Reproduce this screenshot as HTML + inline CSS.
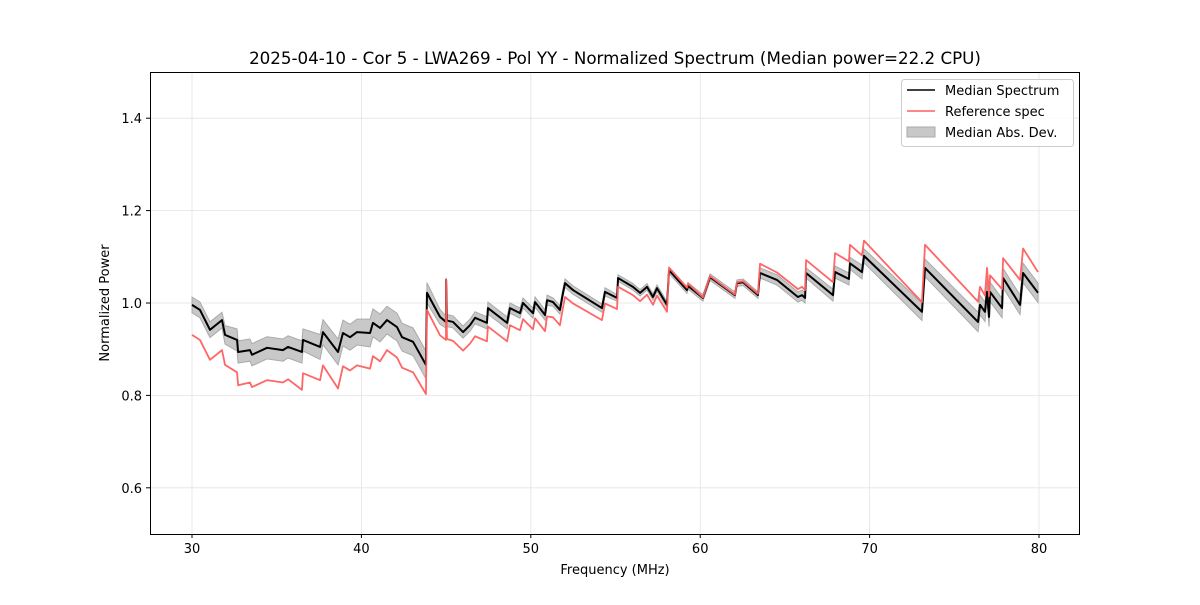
<!DOCTYPE html>
<html><head><meta charset="utf-8"><style>
body{margin:0;background:#fff;}
svg text{font-family:"DejaVu Sans","Liberation Sans",sans-serif;fill:#000;}
</style></head><body>
<svg id="chart" width="1200" height="600" xmlns="http://www.w3.org/2000/svg">
<rect width="1200" height="600" fill="#fff"/>
<g id="grid"></g>
<g id="band"></g>
<g id="lines"></g>
<rect x="150.5" y="72.5" width="929" height="462" fill="none" stroke="#000" stroke-width="1"/>
<g id="ticks"></g>
<text x="615" y="64" font-size="16.7" text-anchor="middle">2025-04-10 - Cor 5 - LWA269 - Pol YY - Normalized Spectrum (Median power=22.2 CPU)</text>
<text x="615" y="574" font-size="13" text-anchor="middle">Frequency (MHz)</text>
<text x="109" y="303" font-size="13" text-anchor="middle" transform="rotate(-90 109 303)">Normalized Power</text>
<g>
<rect x="901.5" y="79.5" width="172" height="67" rx="3" fill="#fff" fill-opacity="0.8" stroke="#ccc"/>
<line x1="907" y1="90" x2="935" y2="90" stroke="#000" stroke-width="1.5"/>
<text x="945" y="95" font-size="13">Median Spectrum</text>
<line x1="907" y1="111" x2="935" y2="111" stroke="#ff5e5e" stroke-width="1.5"/>
<text x="945" y="116" font-size="13">Reference spec</text>
<rect x="907" y="127" width="28" height="10" fill="#c8c8c8" stroke="#aaa"/>
<text x="945" y="137" font-size="13">Median Abs. Dev.</text>
</g>
</svg>
<script>
const xTicks=[30,40,50,60,70,80];
const yTicks=[0.6,0.8,1.0,1.2,1.4];
const yTickLabels=["0.6","0.8","1.0","1.2","1.4"];
const freqs=[30.00,30.47,31.06,31.77,31.95,32.66,32.72,33.42,33.54,34.43,35.37,35.67,36.49,36.55,37.56,37.73,38.62,38.91,39.33,39.74,40.51,40.68,41.10,41.51,42.10,42.40,43.05,43.81,43.87,44.64,44.99,45.00,45.05,45.41,46.00,46.41,46.71,47.41,47.47,48.60,48.77,49.36,49.54,50.13,50.25,50.84,50.96,51.31,51.72,51.90,52.02,52.49,54.20,54.38,55.09,55.15,56.03,56.45,56.86,57.21,57.45,58.04,58.16,59.22,59.28,60.16,60.58,62.05,62.17,62.53,63.41,63.53,64.53,65.77,66.01,66.19,66.25,67.84,67.96,68.78,68.84,69.55,69.67,73.09,73.27,76.40,76.52,76.81,76.93,77.05,77.11,77.82,77.88,78.88,79.06,79.94];
const medianVals=[0.996,0.985,0.942,0.963,0.931,0.920,0.894,0.898,0.888,0.903,0.898,0.905,0.894,0.920,0.905,0.937,0.894,0.935,0.926,0.937,0.935,0.957,0.946,0.963,0.948,0.926,0.916,0.866,1.022,0.970,0.959,1.050,0.962,0.959,0.937,0.952,0.968,0.957,0.989,0.957,0.989,0.978,1.000,0.978,1.002,0.974,1.006,1.002,0.985,1.022,1.043,1.028,0.989,1.024,1.011,1.054,1.035,1.022,1.035,1.013,1.032,0.996,1.071,1.028,1.037,1.011,1.056,1.017,1.043,1.045,1.017,1.065,1.050,1.013,1.017,1.011,1.065,1.017,1.067,1.052,1.086,1.067,1.102,0.981,1.076,0.959,0.996,0.981,1.024,0.970,1.024,0.989,1.054,0.996,1.065,1.022];
const refVals=[0.931,0.920,0.877,0.898,0.866,0.850,0.822,0.828,0.818,0.833,0.828,0.835,0.812,0.848,0.833,0.865,0.815,0.863,0.854,0.865,0.858,0.885,0.874,0.898,0.882,0.860,0.850,0.803,0.985,0.930,0.920,1.050,0.922,0.918,0.897,0.912,0.928,0.917,0.949,0.917,0.952,0.941,0.965,0.943,0.967,0.939,0.971,0.969,0.952,0.990,1.013,0.999,0.963,0.999,0.987,1.035,1.017,1.004,1.018,0.996,1.016,0.981,1.076,1.033,1.042,1.012,1.058,1.018,1.045,1.047,1.020,1.085,1.066,1.030,1.035,1.028,1.093,1.045,1.108,1.090,1.126,1.103,1.135,1.002,1.126,1.003,1.035,1.016,1.076,1.015,1.060,1.030,1.097,1.050,1.118,1.067];
const madVals=[0.017,0.017,0.017,0.017,0.02,0.024,0.024,0.024,0.024,0.024,0.024,0.024,0.024,0.024,0.027,0.027,0.028,0.028,0.028,0.028,0.03,0.03,0.03,0.03,0.03,0.03,0.03,0.03,0.022,0.016,0.013,0.005,0.013,0.013,0.013,0.013,0.013,0.013,0.013,0.013,0.011,0.011,0.011,0.011,0.011,0.011,0.011,0.009,0.009,0.009,0.009,0.009,0.009,0.009,0.007,0.007,0.007,0.007,0.007,0.007,0.007,0.007,0.007,0.007,0.007,0.007,0.007,0.007,0.007,0.007,0.007,0.011,0.011,0.011,0.011,0.011,0.011,0.013,0.013,0.013,0.013,0.015,0.015,0.019,0.019,0.021,0.021,0.021,0.021,0.021,0.021,0.021,0.021,0.021,0.021,0.021];
const NS="http://www.w3.org/2000/svg";
const X0=150,X1=1080,Y0=534,Y1=72,xmin=27.52,xmax=82.42,ymin=0.5,ymax=1.5;
function sx(f){return X0+(f-xmin)/(xmax-xmin)*(X1-X0);}
function sy(v){return Y0-(v-ymin)/(ymax-ymin)*(Y0-Y1);}
function mk(tag,attrs,parent){const e=document.createElementNS(NS,tag);for(const k in attrs)e.setAttribute(k,attrs[k]);parent.appendChild(e);return e;}
const grid=document.getElementById('grid'),ticks=document.getElementById('ticks');
xTicks.forEach(t=>{const x=sx(t);
 const g=mk('line',{x1:x,x2:x,y1:Y1,y2:Y0,stroke:'#e3e3e3','stroke-width':0.8},grid);
 
 
 const tk=mk('line',{x1:x,x2:x,y1:Y0,y2:Y0+4,stroke:'#000'},ticks);
 
 
 const tx=mk('text',{x:x,y:Y0+19,'font-size':13,'text-anchor':'middle'},ticks);tx.textContent=t;
 
 
});
yTicks.forEach((t,i)=>{const y=sy(t);
 const g=mk('line',{x1:X0,x2:X1,y1:y,y2:y,stroke:'#e3e3e3','stroke-width':0.8},grid);
 
 
 const tk=mk('line',{x1:X0-4,x2:X0,y1:y,y2:y,stroke:'#000'},ticks);
 
 
 const tx=mk('text',{x:X0-8,y:y+5,'font-size':13,'text-anchor':'end'},ticks);tx.textContent=yTickLabels[i];
 
 
});
let up=[],dn=[];
freqs.forEach((f,i)=>{up.push(sx(f)+','+sy(medianVals[i]+madVals[i]));dn.unshift(sx(f)+','+sy(medianVals[i]-madVals[i]));});
const band=mk('polygon',{points:up.concat(dn).join(' '),fill:'#c8c8c8',stroke:'#aaa','stroke-width':1},document.getElementById('band'));


const lines=document.getElementById('lines');
const ml=mk('polyline',{points:freqs.map((f,i)=>sx(f)+','+sy(medianVals[i])).join(' '),fill:'none',stroke:'#000','stroke-width':2,'stroke-linejoin':'round'},lines);


const rl=mk('polyline',{points:freqs.map((f,i)=>sx(f)+','+sy(refVals[i])).join(' '),fill:'none',stroke:'#ff5e5e','stroke-width':1.8,'stroke-linejoin':'round','stroke-opacity':0.95},lines);


</script>
</body></html>
